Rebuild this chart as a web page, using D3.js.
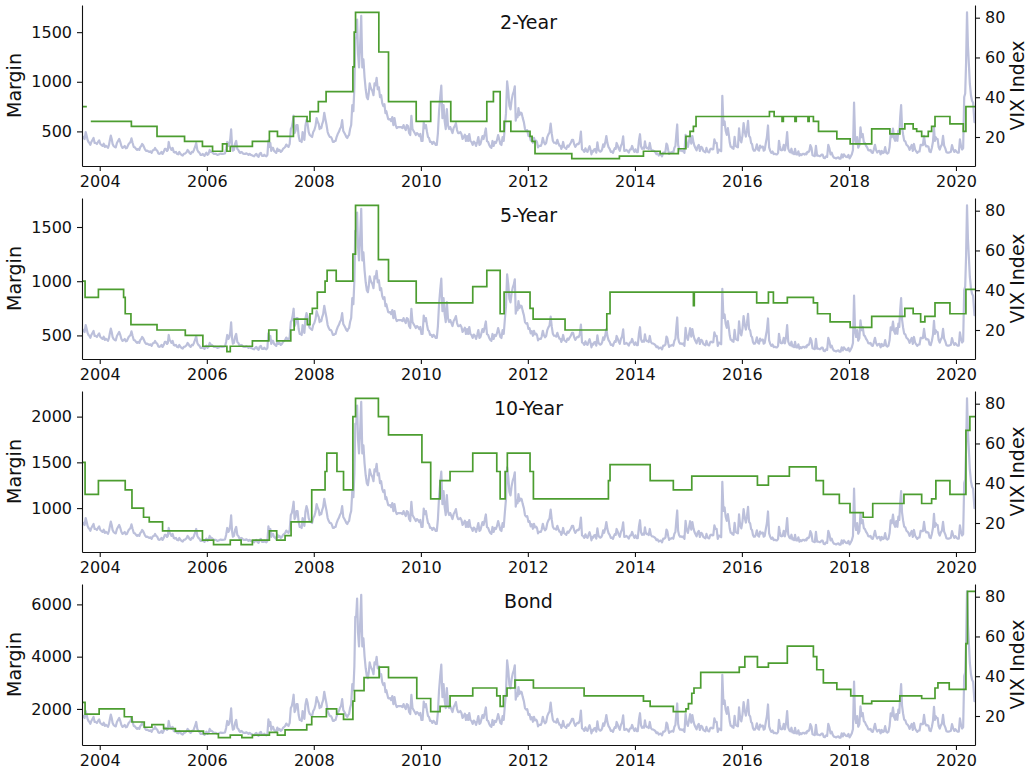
<!DOCTYPE html>
<html>
<head>
<meta charset="utf-8">
<script src="https://cdn.jsdelivr.net/npm/d3@7"></script>
<style>
  body { margin: 0; background: #fff; }
  text { font-family: "DejaVu Sans", sans-serif; fill: #111; }
</style>
</head>
<body>
<svg id="chart" width="1030" height="772"></svg>
<script>
// ---- Data -------------------------------------------------------------
const panelTitles = ["2-Year", "5-Year", "10-Year", "Bond"];
const marginTicks = [[500, 1000, 1500], [500, 1000, 1500], [1000, 1500, 2000], [2000, 4000, 6000]];
const vixTicks = [20, 40, 60, 80];
const yearTicks = [2004, 2006, 2008, 2010, 2012, 2014, 2016, 2018, 2020];
const startDate = "2003-09-02";
const endDate = "2020-05-10";

// Exchange margin levels: each value applies from its date until the next change (null = no quote)
const twoYearDates = ["2003-09-02","2003-10-05","2003-11-01","2004-08-04","2005-01-26","2005-08-02","2005-12-02","2006-02-09","2006-04-18","2006-05-18","2006-06-10","2006-11-08","2007-03-04","2007-04-28","2007-08-15","2007-11-16","2007-12-06","2008-02-01","2008-03-25","2008-09-24","2008-10-03","2008-10-12","2009-03-20","2009-05-25","2009-11-30","2010-03-09","2010-07-24","2011-03-27","2011-05-11","2011-06-26","2011-07-23","2011-09-07","2012-01-16","2012-01-30","2012-02-19","2012-10-27","2013-09-17","2014-02-28","2014-06-22","2014-10-24","2014-12-15","2015-01-12","2015-02-04","2015-02-22","2016-07-07","2016-08-08","2016-10-01","2016-10-10","2016-12-28","2017-01-06","2017-03-27","2017-04-04","2017-05-03","2017-06-07","2017-10-10","2018-01-09","2018-06-05","2018-10-07","2018-12-14","2019-01-17","2019-03-15","2019-04-08","2019-05-12","2019-06-26","2019-07-19","2019-08-11","2019-11-21","2020-02-20","2020-03-09"];
const twoYearMargin = [750,null,600,550,450,400,350,300,375,300,350,400,500,450,650,600,700,800,900,1150,1500,1700,1300,800,600,800,600,800,900,500,600,500,450,400,275,225,250,300,275,325,450,500,550,650,700,650,600,650,600,650,600,650,600,500,425,375,525,475,525,575,525,500,450,500,550,650,575,500,750];

const fiveYearDates = ["2003-09-02","2003-09-23","2003-12-23","2004-06-12","2004-06-23","2004-08-01","2005-01-26","2005-08-07","2005-12-05","2006-05-18","2006-06-10","2006-11-08","2007-02-28","2007-04-23","2007-07-28","2007-08-20","2007-11-18","2007-12-06","2007-12-22","2008-01-25","2008-03-18","2008-04-01","2008-06-02","2008-09-24","2008-10-12","2009-03-17","2009-05-25","2009-11-30","2010-12-21","2011-03-27","2011-06-26","2011-07-23","2012-01-16","2012-02-06","2012-09-11","2013-06-23","2013-07-15","2015-02-04","2015-02-10","2016-04-11","2016-06-30","2016-08-03","2016-11-06","2017-05-03","2017-05-31","2017-08-25","2018-01-09","2018-06-05","2019-01-17","2019-03-15","2019-05-05","2019-06-03","2019-08-11","2019-11-21","2020-03-09"];
const fiveYearMargin = [1000,850,925,850,700,600,550,500,400,350,400,450,550,450,550,650,600,700,750,900,1000,1100,1000,1250,1700,1200,1000,800,950,1100,700,900,750,650,550,700,900,775,900,800,900,800,850,800,700,625,575,675,750,700,625,675,800,700,925];

const tenYearDates = ["2003-09-02","2003-09-23","2003-12-23","2004-06-23","2004-08-08","2004-10-26","2004-12-04","2005-03-05","2005-12-02","2006-02-16","2006-06-10","2006-08-23","2006-11-08","2007-03-04","2007-04-23","2007-06-19","2007-07-30","2007-12-18","2008-03-18","2008-03-30","2008-06-07","2008-07-22","2008-09-24","2008-10-12","2009-03-17","2009-05-25","2010-01-08","2010-03-09","2010-05-12","2010-07-19","2010-12-21","2011-06-03","2011-06-26","2011-07-30","2011-08-14","2012-01-16","2012-02-08","2013-07-04","2013-07-15","2014-04-15","2014-09-20","2015-01-24","2016-04-16","2016-06-30","2016-11-20","2017-05-21","2017-07-10","2017-10-27","2018-01-08","2018-04-08","2018-06-12","2019-01-11","2019-05-12","2019-07-19","2019-08-17","2019-11-21","2020-03-09","2020-04-05"];
const tenYearMargin = [1500,1150,1300,1200,1000,900,850,750,650,600,650,600,650,750,650,700,850,1200,1400,1600,1400,1200,2000,2200,2000,1800,1500,1100,1300,1400,1600,1400,1100,1400,1600,1400,1100,1300,1475,1300,1200,1350,1250,1350,1450,1300,1150,1050,950,900,1050,1150,1050,1100,1300,1150,1850,2000];

const bondDates = ["2003-09-02","2003-09-23","2003-12-28","2004-06-17","2004-08-08","2004-10-31","2004-12-22","2005-03-12","2005-05-31","2005-12-09","2006-03-21","2006-06-10","2006-08-28","2006-11-08","2007-03-04","2007-04-28","2007-06-19","2007-11-14","2007-12-18","2008-03-27","2008-06-05","2008-07-22","2008-09-24","2008-10-05","2008-12-09","2009-03-22","2009-05-25","2009-12-04","2010-03-09","2010-05-12","2010-07-19","2010-12-21","2011-06-03","2011-06-26","2011-07-18","2011-08-12","2011-10-05","2012-02-08","2013-01-19","2014-02-28","2014-04-15","2014-09-20","2014-12-15","2015-01-01","2015-01-24","2015-02-08","2015-03-26","2015-12-14","2016-01-21","2016-04-16","2016-06-30","2016-11-06","2017-05-03","2017-05-26","2017-07-10","2017-10-10","2018-01-13","2018-04-04","2018-06-05","2018-12-14","2019-05-12","2019-08-11","2019-08-31","2019-11-16","2020-03-09","2020-03-20"];
const bondMargin = [2250,1800,2000,1700,1500,1300,1400,1250,1150,1050,900,1000,900,1000,1100,1000,1200,1400,1700,2000,1800,1600,2300,2700,3200,3600,3200,2400,1900,2100,2500,2800,2500,2100,2500,2800,3100,2800,2500,2300,2100,1900,2000,2200,2600,2800,3400,3600,4000,3600,3750,4400,4000,3500,3000,2750,2500,2200,2300,2500,2400,2800,3000,2750,4500,6500];

// VIX Index, weekly readings; one string per month starting September 2003
const vixStart = "2003-09";
const vixWeekly = [
  "20.5 19.5 19.0 22.5","20.5 18.5 17.5 17.0 16.1","17.5 18.5 19.5 17.0","17.0 16.5 17.5 18.3",
  "16.5 16.0 15.5 16.6","15.0 15.6 15.2 14.5","16.0 18.5 20.7 19.0 16.5","15.5 15.0 14.8 17.0","18.0 19.0 17.5 15.5","14.5 15.0 15.5 14.3","14.5 15.5 16.5 17.0 17.5","19.3 17.0 15.0 14.8","14.0 13.5 14.0 13.5","15.0 15.5 16.5 16.0 15.0","13.8 13.0 13.2 12.8","12.5 12.8 12.0 13.3",
  "13.5 14.5 13.5 13.0","11.7 11.5 11.8 12.5","11.5 12.5 14.0 14.0","13.0 13.5 17.5 15.0 14.5","13.5 14.5 12.5 12.2","12.5 11.5 11.3 12.5","11.5 11.0 10.7 11.5","11.6 12.0 12.5 13.5 13.0","12.0 11.5 12.5 12.3","13.5 15.0 17.0 13.5","12.5 12.0 11.0 11.0","11.5 11.0 10.5 11.5 12.1",
  "11.0 11.5 13.5 12.5","12.5 12.0 11.5 11.5","11.5 11.2 11.0 11.3 11.4","11.7 11.5 11.5 11.6","11.7 14.0 17.5 15.5","16.5 19.0 23.8 16.0 13.1","13.5 16.5 18.0 14.0","13.5 12.5 12.0 12.5 12.3","11.7 11.5 11.5 11.8","11.5 11.0 11.5 11.0","10.8 10.5 10.3 11.0","11.5 10.5 10.0 11.6",
  "12.0 10.5 10.5 11.1","10.5 10.3 11.0 18.3","15.0 17.0 13.0 14.5 14.6","13.0 12.5 12.0 14.2","13.0 13.5 12.5 13.0","14.0 14.5 15.0 16.2","15.5 15.0 16.5 24.0","25.0 27.5 30.7 22.0 23.0","26.0 26.0 20.5 18.0","18.0 17.5 22.5 20.0 18.5","25.5 28.5 26.5 22.5","21.0 20.5 20.0 22.5",
  "23.5 25.5 29.5 27.5","26.5 24.0 25.0 24.5 26.5","28.0 32.2 29.0 26.0","22.5 21.0 20.0 20.0","19.0 17.5 17.5 18.0 18.0","20.0 21.5 22.5 24.0","25.0 28.5 23.0 22.0","21.0 20.0 19.5 20.5 21.0","24.0 26.0 36.0 33.0","45.0 69.9 70.0 79.1 62.0","55.0 66.0 80.9 55.0","59.0 50.0 44.0 40.0",
  "39.0 42.0 47.0 45.0 44.0","43.0 41.0 47.0 46.0","49.7 44.0 45.0 40.0","41.0 37.0 35.5 36.5","32.0 33.0 31.0 29.0 28.9","29.0 28.0 30.0 26.0","29.5 26.0 24.5 25.0","25.0 25.0 25.0 24.5","26.0 24.5 23.5 26.0","25.5 22.0 21.0 30.7","24.0 23.0 22.0 21.0","22.0 21.5 20.5 21.5",
  "18.0 18.0 27.3 24.5","26.0 22.7 20.0 19.5","17.5 17.6 16.5 17.6","17.0 16.0 16.0 22.0","32.8 40.0 45.8 29.5","36.0 28.0 24.0 34.0","26.0 24.0 25.0 23.5","22.0 24.5 25.5 27.0","23.5 22.0 22.0 22.5","21.5 19.0 20.0 21.2","18.0 20.5 18.0 21.5","18.0 17.5 16.0 17.7",
  "17.1 15.5 17.5 20.0","16.0 16.5 18.5 20.5","19.0 21.5 24.3 17.9","17.5 16.0 15.0 14.6","18.0 15.5 17.5 17.0","18.5 21.0 18.9 16.5","16.0 19.9 18.0 25.3","32.0 48.0 43.1 35.6","33.9 38.5 41.3 42.9","45.5 28.2 31.3 29.9 34.5","31.0 32.3 32.0 29.5","27.5 24.0 23.2 23.4",
  "20.6 20.9 18.3 19.4","17.1 19.6 17.8 18.2","17.3 14.8 15.5 15.5 15.5","16.7 19.6 17.4 16.3","17.0 19.9 21.3 22.3","26.7 21.7 18.1 17.1","17.1 16.7 18.6 16.7","15.6 15.6 14.0 15.2 17.5","15.0 14.5 14.1 15.7","15.1 16.2 17.1 18.6","18.6 16.4 15.0 15.9","16.6 16.4 17.8 22.7",
  "13.8 13.4 12.5 14.3","12.9 12.5 14.1 15.4","13.5 11.3 13.0 12.7 13.8","13.9 12.1 17.3 13.6","12.9 12.6 13.0 14.0 16.3","15.1 17.2 20.5 16.9","14.9 14.0 12.5 12.7","12.0 13.4 14.4 14.0 17.0","15.8 14.2 13.1 15.5","16.7 20.3 13.0 13.1","13.5 12.9 12.2 13.7","13.8 15.5 13.8 12.5",
  "13.8 12.4 12.4 18.1","21.4 15.3 14.0 14.7","14.1 17.8 15.0 14.4 14.5","13.9 17.0 14.0 13.3","13.2 12.9 12.4 11.4","11.7 10.7 11.0 11.2","10.3 12.1 12.1 12.7","16.7 15.8 13.2 11.5 12.1","12.1 12.5 12.1 14.6","15.5 21.2 26.3 16.1 14.0","13.1 13.3 12.9 13.3","12.0 21.1 16.5 15.0",
  "17.8 20.9 16.7 20.4","17.3 15.5 14.3 13.3","15.2 16.0 13.0 15.1","14.7 13.0 12.6 12.3","14.5 12.9 12.4 12.3 13.8","14.2 13.8 13.9 18.8","17.0 17.0 12.0 13.7","13.4 12.8 40.7 26.1","27.8 23.2 21.1 24.5","20.9 17.1 15.1 15.1 14.3","14.1 20.1 15.5 15.1","14.8 24.4 18.7 17.3",
  "20.7 27.0 22.7 20.2","23.4 28.1 20.5 19.8","16.9 16.5 14.0 13.1 13.1","14.1 16.3 13.6 13.2","15.7 14.7 15.0 15.2 13.1","13.5 17.0 20.0 25.8","14.8 13.0 12.0 12.7","11.4 11.6 11.3 11.3","12.0 18.1 15.5 13.5 13.3","13.5 16.1 13.3 16.2","22.5 14.2 12.8 12.3","14.1 11.8 12.2 11.4 14.0",
  "11.3 11.2 12.8 10.6","11.4 10.9 11.5 11.5","11.2 11.7 11.3 12.5 12.4","12.9 15.9 14.6 10.8","10.6 10.4 15.6 10.6","10.7 10.4 10.4 11.2","11.2 9.5 9.4 10.3","10.0 16.0 14.3 11.3","12.1 10.5 9.6 9.5","9.2 9.6 9.8 9.1","9.1 11.3 9.7 11.3","10.5 10.0 9.9 11.0",
  "9.2 10.2 11.3 13.5","37.3 19.5 16.5 19.9","14.6 15.8 24.9 19.9","21.5 17.4 16.9 15.6","14.8 13.4 13.2 13.5","12.2 12.0 13.8 16.1","13.4 12.2 12.9 13.0","11.3 13.0 11.9 12.3","14.9 12.1 11.7 12.1","14.8 21.3 19.9 24.2","19.5 18.1 21.0 18.1","23.2 21.6 30.1 36.1 25.4",
  "21.4 18.2 17.8 16.1","15.7 14.9 13.5 14.8","16.0 13.0 16.5 13.7","12.8 12.0 12.7 12.7","16.0 16.0 15.9 20.6","16.3 15.3 15.4 15.1","12.7 12.4 14.5 17.6","24.6 18.0 19.9 19.0 19.0","15.0 13.7 15.3 16.2","20.6 15.6 14.3 12.3","12.1 12.1 12.3 12.6","15.9 13.9 12.5 13.4",
  "12.6 12.1 12.1 18.8","15.5 13.7 14.4 40.1","41.9 57.8 82.7 66.0 57.0","46.8 41.0 38.2 37.2","27.5 31.4 27.0"
];

// ---- Layout -----------------------------------------------------------
const W = 1030, H = 772;
const left = 82, right = 975;
const panelTop = [5, 198, 391, 584];
const panelH = 161;
const marginColor = "#4c9d30";
const vixColor = "#bcc0db";

const svg = d3.select("#chart");
svg.append("rect").attr("width", W).attr("height", H).attr("fill", "#fff");

const x = d3.scaleUtc().domain([new Date(startDate), new Date(endDate)]).range([left, right]);

// Weekly VIX points, spread through each month
const [vy, vm] = vixStart.split("-").map(Number);
const vixPoints = [];
vixWeekly.forEach((s, k) => {
  const vals = s.trim().split(/\s+/).map(Number);
  const m0 = Date.UTC(vy, vm - 1 + k, 1), m1 = Date.UTC(vy, vm + k, 1);
  vals.forEach((v, i) => vixPoints.push({ t: new Date(m0 + (i + 0.5) / vals.length * (m1 - m0)), v }));
});
const vixExt = d3.extent(vixPoints, d => d.v);
const vixPad = 0.05 * (vixExt[1] - vixExt[0]);

const series = [
  [twoYearDates, twoYearMargin],
  [fiveYearDates, fiveYearMargin],
  [tenYearDates, tenYearMargin],
  [bondDates, bondMargin]
];

series.forEach(([dates, vals], p) => {
  const top = panelTop[p], bottom = top + panelH;
  const g = svg.append("g");

  // step points: a level ends where the next one (or a gap) begins
  const pts = [];
  dates.forEach((d, i) => {
    const t = new Date(d);
    if (vals[i] == null && i > 0) pts.push({ t, v: vals[i - 1] });
    pts.push({ t, v: vals[i] });
  });
  pts.push({ t: new Date(endDate), v: vals[vals.length - 1] });

  const ext = d3.extent(vals.filter(v => v != null));
  const pad = 0.05 * (ext[1] - ext[0]);
  const y = d3.scaleLinear().domain([ext[0] - pad, ext[1] + pad]).range([bottom, top]);
  const yv = d3.scaleLinear().domain([vixExt[0] - vixPad, vixExt[1] + vixPad]).range([bottom, top]);

  const clipId = "clip" + p;
  svg.append("clipPath").attr("id", clipId)
    .append("rect").attr("x", left).attr("y", top).attr("width", right - left).attr("height", panelH);

  const plot = g.append("g").attr("clip-path", `url(#${clipId})`);
  plot.append("path")
    .datum(vixPoints)
    .attr("fill", "none").attr("stroke", vixColor).attr("stroke-width", 2.2)
    .attr("stroke-linejoin", "round")
    .attr("d", d3.line().x(d => x(d.t)).y(d => yv(d.v)));
  plot.append("path")
    .datum(pts)
    .attr("fill", "none").attr("stroke", marginColor).attr("stroke-width", 1.7)
    .attr("d", d3.line().defined(d => d.v != null).curve(d3.curveStepAfter).x(d => x(d.t)).y(d => y(d.v)));

  // Axes
  const fmtYear = d3.utcFormat("%Y");
  const ax = g.append("g").attr("transform", `translate(0,${bottom})`)
    .call(d3.axisBottom(x).tickValues(yearTicks.map(yr => new Date(Date.UTC(yr, 0, 1))))
      .tickFormat(fmtYear).tickSize(5).tickPadding(5).tickSizeOuter(0));
  const ay = g.append("g").attr("transform", `translate(${left},0)`)
    .call(d3.axisLeft(y).tickValues(marginTicks[p]).tickFormat(d3.format("d"))
      .tickSize(5).tickPadding(5).tickSizeOuter(0));
  const ar = g.append("g").attr("transform", `translate(${right},0)`)
    .call(d3.axisRight(yv).tickValues(vixTicks).tickFormat(d3.format("d"))
      .tickSize(5).tickPadding(5).tickSizeOuter(0));
  [ax, ay, ar].forEach(a => {
    a.selectAll("path.domain").attr("stroke", "#111").attr("stroke-width", 1.1);
    a.selectAll(".tick line").attr("stroke", "#111").attr("stroke-width", 1.1);
    a.selectAll(".tick text").attr("font-size", 16).attr("font-family", "DejaVu Sans").attr("fill", "#111");
  });

  g.append("text").attr("x", (left + right) / 2).attr("y", top + 24)
    .attr("text-anchor", "middle").attr("font-size", 19).text(panelTitles[p]);
  g.append("text").attr("transform", `translate(21,${top + panelH / 2}) rotate(-90)`)
    .attr("text-anchor", "middle").attr("font-size", 19).text("Margin");
  g.append("text").attr("transform", `translate(1024,${top + panelH / 2}) rotate(-90)`)
    .attr("text-anchor", "middle").attr("font-size", 19).text("VIX Index");
});
</script>
</body>
</html>
